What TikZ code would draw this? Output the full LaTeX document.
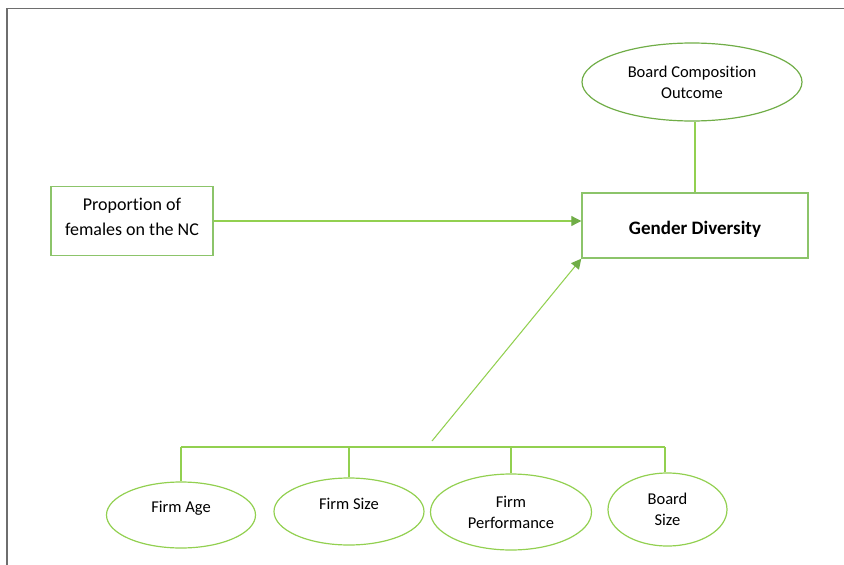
\documentclass[tikz,border=0pt]{standalone}
\usepackage{fontspec}
\setmainfont{Carlito}[Ligatures=NoCommon]
\usetikzlibrary{shapes.geometric,arrows.meta}
\definecolor{boxgreen}{HTML}{8CC46A}
\definecolor{ellgreen}{HTML}{92D050}
\definecolor{darkgreen}{HTML}{70AD47}
\definecolor{framegray}{HTML}{6E6E6E}
\tikzset{
  rectbox/.style={draw=boxgreen, line width=1.4pt, align=center, inner sep=0pt},
  ellnode/.style={ellipse, draw=ellgreen, line width=1.2pt, align=center, inner sep=0pt},
  topell/.style={ellipse, draw=darkgreen, line width=1.2pt, align=center, inner sep=0pt},
  conn/.style={draw=ellgreen, line width=1.05pt},
  arr/.style={draw=ellgreen, line width=1.05pt, -{Triangle[length=10pt,width=10pt,fill=darkgreen,color=darkgreen]}},
  txtA/.style={font=\fontsize{18}{25}\selectfont},
  txtB/.style={font=\fontsize{16.5}{21}\selectfont},
}
\begin{document}
\begin{tikzpicture}[x=1pt,y=-1pt]
\useasboundingbox (0,0) rectangle (844,565);
\draw[framegray, line width=1.2pt] (7,565) -- (7,8.5) -- (844,8.5);

\node[topell, txtB, minimum width=220pt, minimum height=78pt] (bco) at (692,82) {Board Composition\\Outcome};
\node[rectbox, minimum width=226pt, minimum height=65pt, font=\fontsize{19}{23}\selectfont\bfseries, text height=19pt, text depth=0.5pt] (gd) at (695,225.5) {Gender Diversity};
\node[rectbox, txtA, minimum width=162pt, minimum height=69pt, text height=37.5pt, text depth=8pt] (prop) at (132,221) {Proportion of\\females on the NC};

\node[ellnode, txtB, minimum width=149pt, minimum height=66pt, text height=6pt, text depth=12pt] (age) at (181,515) {Firm Age};
\node[ellnode, txtB, minimum width=150pt, minimum height=67pt, text height=6pt, text depth=10.5pt] (size) at (349,511.5) {Firm Size};
\node[ellnode, txtB, minimum width=161pt, minimum height=76pt] (perf) at (511,512) {Firm\\Performance};
\node[ellnode, txtB, minimum width=119pt, minimum height=73pt] (bsize) at (667.5,509.5) {Board\\Size};

\coordinate (busL) at (181,447);
\coordinate (busR) at (665,447);
\coordinate (busM) at (432,441);

\draw[conn] (gd.north) -- (gd.north |- bco.south);
\draw[arr] (prop.east) -- (prop.east -| gd.west);
\draw[arr] (busM) -- (gd.south west);
\draw[conn] (busL) -- (busR);
\draw[conn] (busL) -- (busL |- age.north);
\draw[conn] (size.north) -- (size.north |- busL);
\draw[conn] (perf.north) -- (perf.north |- busL);
\draw[conn] (busR) -- (busR |- bsize.north);
\end{tikzpicture}
\end{document}
